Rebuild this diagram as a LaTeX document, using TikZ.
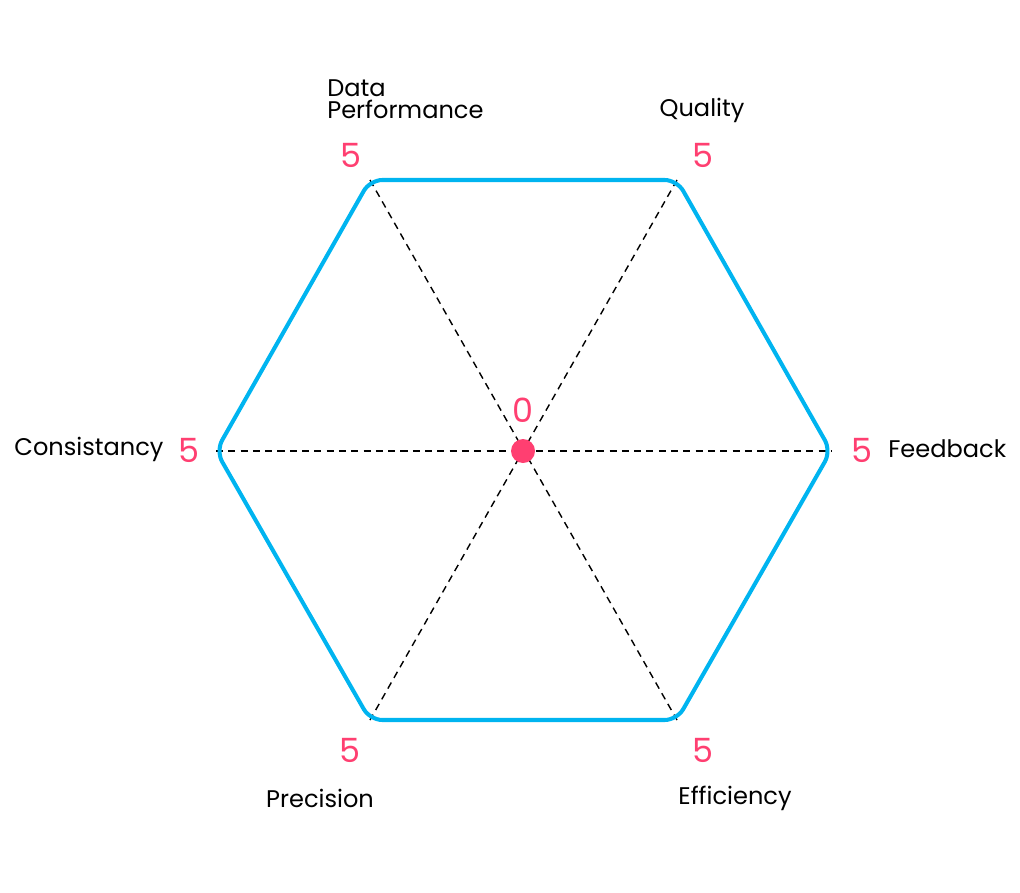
\documentclass[tikz,border=0pt]{standalone}
\usepackage{fontspec}
\setmainfont{Poppins}
\definecolor{hexblue}{HTML}{00B4F0}
\definecolor{scorepink}{HTML}{FF3F71}
\begin{document}
\begin{tikzpicture}[x=0.02cm,y=-0.02cm,
  axislabel/.style={font=\fontsize{13.7}{14}\selectfont,text=black,inner sep=0pt},
  score/.style={font=\fontsize{19}{20}\selectfont,text=scorepink,inner sep=0pt},
  spoke/.style={black,dashed,line width=0.8pt,dash pattern=on 4pt off 3pt},
  hexline/.style={hexblue,line width=2.3pt,rounded corners=7pt}]
\useasboundingbox (0,0) rectangle (1020,892);
\coordinate (c) at (523,451);
\coordinate (tl) at (370,180);
\coordinate (tr) at (677,180);
\coordinate (r) at (831,451);
\coordinate (br) at (677,720);
\coordinate (bl) at (370,720);
\coordinate (l) at (216,451);
\draw[spoke] (tl) -- (br);
\draw[spoke] (tr) -- (bl);
\draw[spoke] (l) -- (r);
\draw[hexline] (tl) -- (tr) -- (r) -- (br) -- (bl) -- (l) -- cycle;
\fill[scorepink] (c) circle (12);
\node[score] (s0) at (523,410) {0};
\node[score] (s1) at (351,155) {5};
\node[score] (s2) at (703,155) {5};
\node[score] (s3) at (862,450) {5};
\node[score] (s4) at (703,750) {5};
\node[score] (s5) at (350,750) {5};
\node[score] (s6) at (189,450) {5};
\node[axislabel,anchor=west,align=left,font=\fontsize{13.7}{12.5}\selectfont] (dp) at (327,99) {Data\\Performance};
\node[axislabel] (q) at (702,110) {Quality};
\node[axislabel,anchor=west] (fb) at (888,449) {Feedback};
\node[axislabel] (ef) at (735,798) {Efficiency};
\node[axislabel] (pr) at (320,798) {Precision};
\node[axislabel] (co) at (89,449) {Consistancy};
\end{tikzpicture}
\end{document}
